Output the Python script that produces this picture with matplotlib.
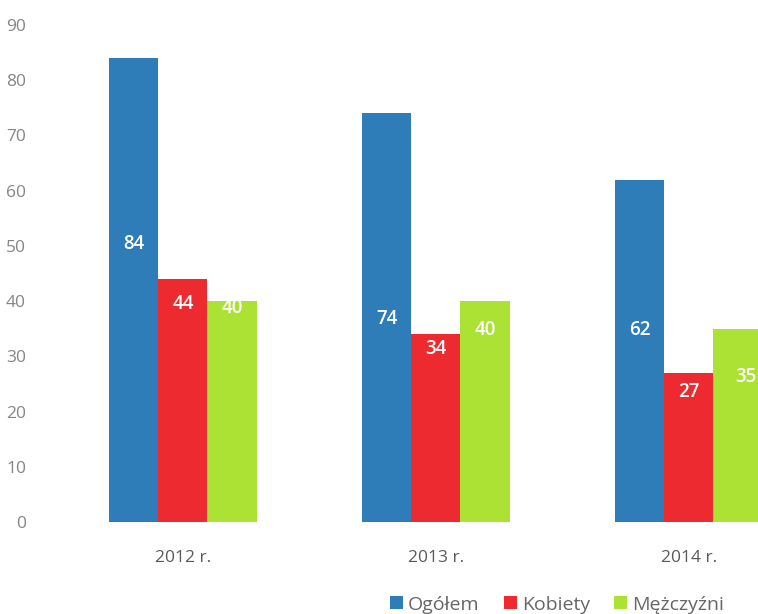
import matplotlib.pyplot as plt
import numpy as np

plt.rcParams['font.family'] = ['Open Sans', 'DejaVu Sans']

# data
years = ['2012 r.', '2013 r.', '2014 r.']
series_names = ['Ogółem', 'Kobiety', 'Mężczyźni']
ogolem = [84, 74, 62]
kobiety = [44, 34, 27]
mezczyzni = [40, 40, 35]

colors = ['#2f7db8', '#ec2a30', '#abe233']
# where the value labels sit inside the bars (as in the original)
label_y = [[50.4, 36.8, 34.8], [39.5, 31.3, 23.5], [38.8, 34.8, 26.2]]
label_dx = [[0, 0, 0], [0, 0, 0], [0, 0, 0.03]]

fig = plt.figure(figsize=(7.58, 6.14), dpi=100)
ax = fig.add_axes([40 / 758, 92 / 614, 718 / 758, 497 / 614])

x = np.arange(len(years))
w = 0.194
handles = []
for i, (vals, c, name) in enumerate(zip([ogolem, kobiety, mezczyzni], colors, series_names)):
    pos = x + (i - 1) * w
    b = ax.bar(pos, vals, width=w, color=c, label=name)
    handles.append(b)
    for j, v in enumerate(vals):
        ax.text(pos[j] + label_dx[i][j], label_y[i][j], str(v), color='white',
                fontsize=13.5, fontweight='semibold', ha='center', va='center')

ax.set_xlim(-0.565, 2.273)
ax.set_ylim(0, 90)
ax.set_yticks(range(0, 91, 10))
ax.tick_params(axis='y', length=0, labelsize=12.5, labelcolor='#858585', pad=10)
ax.set_xticks(x)
ax.set_xticklabels(years)
ax.tick_params(axis='x', length=0, labelsize=12.5, labelcolor='#5a5a5a', pad=20)
for s in ax.spines.values():
    s.set_visible(False)
for lab in ax.get_yticklabels():
    lab.set_clip_on(False)

fig.legend(handles=handles, loc='lower right', bbox_to_anchor=(0.978, -0.028), ncol=3,
           frameon=False, fontsize=14, labelcolor='#666666', handlelength=0.67,
           handleheight=0.67, handletextpad=0.25, columnspacing=1.25)

fig.savefig('out.png', dpi=100)
